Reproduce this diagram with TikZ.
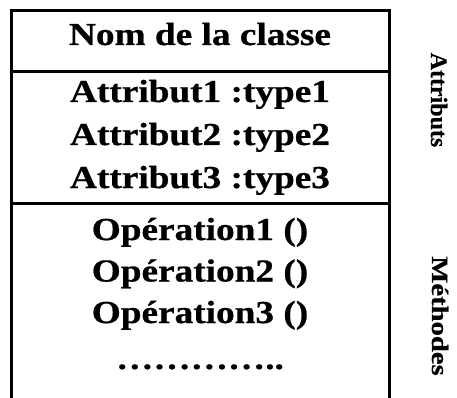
\documentclass[tikz,border=0pt]{standalone}
\usepackage{graphicx}
\usepackage{fontspec}
\setmainfont{Liberation Serif}[BoldFont={Liberation Serif Bold},BoldFeatures={FakeBold=0.6}]
\begin{document}
\begin{tikzpicture}[x=1pt,y=-1pt,
  member/.style={anchor=base,inner sep=0pt,font=\bfseries\fontsize{32}{38}\selectfont},
  side/.style={anchor=base,inner sep=0pt,rotate=-90,font=\bfseries\fontsize{23.5}{28}\selectfont},
  frame/.style={line width=3pt}]
\useasboundingbox (0,0) rectangle (457,398);
% class box: open at the bottom, two compartment separators
\coordinate (tl) at (11,11);
\coordinate (tr) at (389,11);
\coordinate (bl) at (11,398);
\coordinate (br) at (389,398);
\coordinate (s1l) at (11,72);
\coordinate (s1r) at (389,72);
\coordinate (s2l) at (11,203);
\coordinate (s2r) at (389,203);
\draw[frame] (bl) -- (tl) -- (tr) -- (br);
\draw[frame] (s1l) -- (s1r);
\draw[frame] (s2l) -- (s2r);
% class name
\node[member] (nom) at (200,45) {\scalebox{1.165}[1]{Nom de la classe}};
% attributes
\node[member] (a1) at (200,102) {\scalebox{1.165}[1]{Attribut1 :type1}};
\node[member] (a2) at (200,145) {\scalebox{1.165}[1]{Attribut2 :type2}};
\node[member] (a3) at (200,188) {\scalebox{1.165}[1]{Attribut3 :type3}};
% operations
\node[member] (o1) at (200,240) {\scalebox{1.165}[1]{Opération1 ()}};
\node[member] (o2) at (200,281.5) {\scalebox{1.165}[1]{Opération2 ()}};
\node[member] (o3) at (200,323) {\scalebox{1.165}[1]{Opération3 ()}};
\node[member] (etc) at (200,369) {\scalebox{1.165}[1]{…………..}};
% compartment labels
\node[side] (latt) at (431,100) {\scalebox{1.02}[1]{Attributs}};
\node[side] (lmet) at (432,316) {\scalebox{1.22}[1]{Méthodes}};
\end{tikzpicture}
\end{document}
